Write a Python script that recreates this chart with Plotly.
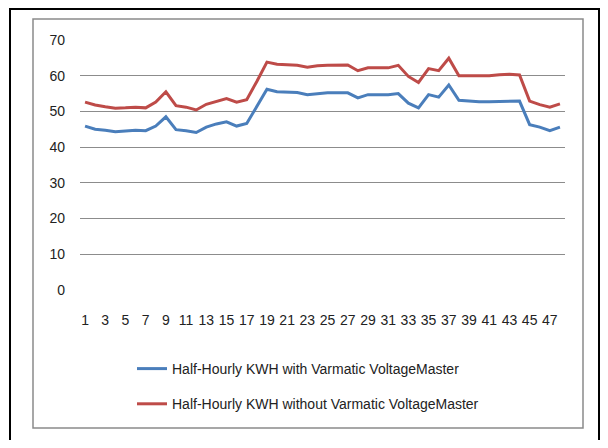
import plotly.graph_objects as go

periods = list(range(1, 49))
with_vm = [45.9, 45.0, 44.7, 44.3, 44.5, 44.7, 44.6, 45.9, 48.5, 44.9,
           44.6, 44.1, 45.6, 46.5, 47.1, 45.9, 46.6, 51.3, 56.2, 55.5,
           55.5, 55.3, 54.7, 55.0, 55.2, 55.2, 55.2, 53.8, 54.7, 54.7,
           54.7, 55.0, 52.3, 51.0, 54.7, 54.0, 57.4, 53.1, 52.8, 52.7,
           52.7, 52.8, 52.9, 52.9, 46.3, 45.6, 44.6, 45.6]
without_vm = [52.6, 51.8, 51.3, 50.9, 51.0, 51.2, 51.0, 52.6, 55.5, 51.6,
              51.2, 50.4, 52.0, 52.9, 53.6, 52.6, 53.3, 58.4, 63.8, 63.2,
              63.1, 62.9, 62.4, 62.8, 62.9, 63.0, 63.0, 61.4, 62.2, 62.2,
              62.2, 62.9, 59.8, 58.1, 62.0, 61.4, 64.9, 60.0, 60.0, 60.0,
              60.0, 60.3, 60.4, 60.2, 52.9, 51.9, 51.2, 52.1]
x_ticks = list(range(1, 48, 2))
y_ticks = [0, 10, 20, 30, 40, 50, 60, 70]
names = ["Half-Hourly KWH with Varmatic VoltageMaster",
         "Half-Hourly KWH without Varmatic VoltageMaster"]

FONT = "Liberation Sans Narrow, Liberation Sans, Arial, sans-serif"

fig = go.Figure()
fig.add_trace(go.Scatter(x=periods, y=with_vm, mode="lines", name=names[0],
                         legendgroup="a",
                         line=dict(color="#4A7EBB", width=3)))
fig.add_trace(go.Scatter(x=periods, y=without_vm, mode="lines", name=names[1],
                         legendgroup="b",
                         line=dict(color="#BE4B48", width=3)))

OFF = 8  # page body margin offset
W, H = 608 - 2 * OFF, 448 - 2 * OFF
L, T = 80 - OFF, 40 - OFF
pw, ph = 485, 250
R, B = W - L - pw, H - T - ph

def px(x):
    return (x - OFF - L) / pw

def py(y):
    return (T + ph - (y - OFF)) / ph

shapes = [
    dict(type="rect", xref="paper", yref="paper",
         x0=px(10), x1=px(599), y0=py(470), y1=py(9),
         line=dict(color="#000000", width=2), fillcolor="rgba(0,0,0,0)"),
    dict(type="rect", xref="paper", yref="paper",
         x0=px(33), x1=px(583), y0=py(428), y1=py(19),
         line=dict(color="#8a8a8a", width=1.5), fillcolor="rgba(0,0,0,0)"),
    dict(type="rect", xref="paper", yref="paper",
         x0=px(131), x1=px(497), y0=py(470), y1=py(442),
         line=dict(color="#000000", width=2), fillcolor="rgba(0,0,0,0)"),
]

fig.update_layout(
    width=W, height=H,
    margin=dict(l=L, r=R, t=T, b=B),
    paper_bgcolor="white", plot_bgcolor="white",
    font=dict(family=FONT, size=14, color="#222222"),
    showlegend=True,
    legend=dict(x=px(132), y=py(353), xanchor="left", yanchor="top",
                orientation="v", tracegroupgap=14,
                font=dict(family=FONT, size=14, color="#222222"),
                bgcolor="rgba(0,0,0,0)", itemwidth=30),
    shapes=shapes,
    xaxis=dict(range=[0.5, 48.5], tickmode="array", tickvals=x_ticks,
               ticktext=[str(v) for v in x_ticks],
               showgrid=False, zeroline=False, showline=False, ticks="",
               ticklabelstandoff=20, fixedrange=True),
    yaxis=dict(range=[0, 70], tickmode="array", tickvals=y_ticks,
               showgrid=True, gridcolor="#8c8c8c", gridwidth=1,
               zeroline=False, showline=False, ticks="",
               ticklabelstandoff=14, fixedrange=True),
)

fig.write_html("out.html")
